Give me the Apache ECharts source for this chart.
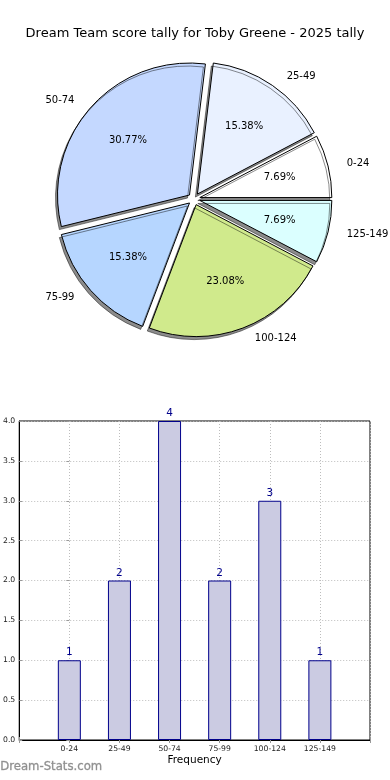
<!DOCTYPE html>
<html><head><meta charset="utf-8">
<script src="https://cdn.jsdelivr.net/npm/echarts@6/dist/echarts.min.js"></script>
<style>html,body{margin:0;padding:0;background:#fff}#c{width:390px;height:780px}</style>
</head><body><div id="c"></div>
<script>
const chartTitle = 'Dream Team score tally for Toby Greene - 2025 tally';
const categories = ['0-24', '25-49', '50-74', '75-99', '100-124', '125-149'];
const counts = [1, 2, 4, 2, 3, 1];
const sliceColors = ['#ffffff', '#e9f1ff', '#c4d8ff', '#b6d6ff', '#d0ea8c', '#dbffff'];
const xAxisName = 'Frequency';
const watermark = 'Dream-Stats.com';

const FONT = 'DejaVu Sans';
const R = 132;
const C = [194, 199];
const total = counts.reduce((a, b) => a + b, 0);

const chart = echarts.init(document.getElementById('c'), null, {renderer: 'canvas'});
const catLabel = v => (Number.isInteger(v) && v >= 0 && v < categories.length) ? categories[v] : '';

chart.setOption({
  animation: false,
  backgroundColor: '#fff',
  title: {
    text: chartTitle, left: 'center', top: 22,
    textStyle: {fontFamily: FONT, fontSize: 13, fontWeight: 'normal', color: '#000'}
  },
  graphic: [{
    type: 'text', left: 0, top: 761,
    style: {text: watermark, fill: '#8f8f8f', font: '11.7px "DejaVu Sans"', stroke: '#b0b0b0', lineWidth: 0.4}
  }],
  grid: {left: 19, right: 20, top: 421, bottom: 40, show: true, borderColor: '#000', borderWidth: 1, backgroundColor: 'transparent'},
  xAxis: [{
    type: 'value', min: -1, max: 6, interval: 1,
    name: xAxisName, nameLocation: 'middle', nameGap: 15,
    nameTextStyle: {fontFamily: FONT, fontSize: 10.5, color: '#000'},
    axisLine: {show: true, onZero: false, lineStyle: {color: '#000'}},
    axisTick: {show: true, inside: true, length: 3, lineStyle: {color: '#999'}},
    axisLabel: {formatter: catLabel, fontFamily: FONT, fontSize: 7.7, color: '#222', margin: 5, showMinLabel: true, showMaxLabel: true},
    splitLine: {show: true, lineStyle: {color: '#bdbdbd', type: [1, 2], width: 1}}
  }, {
    type: 'value', position: 'top', min: -1, max: 6, interval: 1,
    axisLine: {show: false}, axisLabel: {show: false}, splitLine: {show: false},
    axisTick: {show: true, inside: true, length: 3, lineStyle: {color: '#999'}}
  }],
  yAxis: [{
    type: 'value', min: 0, max: 4, interval: 0.5,
    axisLine: {show: true, onZero: false, lineStyle: {color: '#000'}},
    axisTick: {show: true, inside: true, length: 3, lineStyle: {color: '#999'}},
    axisLabel: {formatter: v => v.toFixed(1), fontFamily: FONT, fontSize: 7.7, color: '#222', margin: 4},
    splitLine: {show: true, lineStyle: {color: '#bdbdbd', type: [1, 2], width: 1}}
  }, {
    type: 'value', position: 'right', min: 0, max: 4, interval: 0.5,
    axisLine: {show: false}, axisLabel: {show: false}, splitLine: {show: false},
    axisTick: {show: true, inside: true, length: 3, lineStyle: {color: '#999'}}
  }],
  series: [
    {
      type: 'pie', center: C, radius: R, startAngle: 0, clockwise: false,
      selectedMode: 'multiple', selectedOffset: 6, avoidLabelOverlap: false, silent: true,
      data: categories.map((c, i) => ({name: c, value: counts[i], selected: true, itemStyle: {color: sliceColors[i]}})),
      itemStyle: {borderColor: '#000', borderWidth: 1, shadowColor: 'rgba(0,0,0,0.45)', shadowOffsetX: -2, shadowOffsetY: 3, shadowBlur: 0},
      label: {show: true, position: 'outside', formatter: '{b}', fontFamily: FONT, fontSize: 10, color: '#000', distanceToLabelLine: 0},
      labelLine: {show: false, length: 11, length2: 8},
      emphasis: {disabled: true}
    },
    {
      type: 'pie', center: C, radius: R * 1.2, startAngle: 0, clockwise: false,
      selectedMode: 'multiple', selectedOffset: 6, avoidLabelOverlap: false, silent: true, z: 3,
      data: categories.map((c, i) => ({name: c, value: counts[i], selected: true})),
      itemStyle: {color: 'rgba(0,0,0,0)', borderWidth: 0},
      label: {show: true, position: 'inside', formatter: p => (p.value / total * 100).toFixed(2) + '%', fontFamily: FONT, fontSize: 10, color: '#000'},
      labelLine: {show: false},
      emphasis: {disabled: true}
    },
    {
      type: 'bar', xAxisIndex: 0, yAxisIndex: 0, barWidth: 23,
      data: counts.map((v, i) => [i, v]),
      itemStyle: {color: '#cbcbe2', borderColor: '#00008b', borderWidth: 1},
      label: {show: true, position: 'top', distance: 2, formatter: p => String(p.value[1]), fontFamily: FONT, fontSize: 10.5, color: '#00008b'},
      emphasis: {disabled: true}
    }
  ]
});
</script>
</body></html>
